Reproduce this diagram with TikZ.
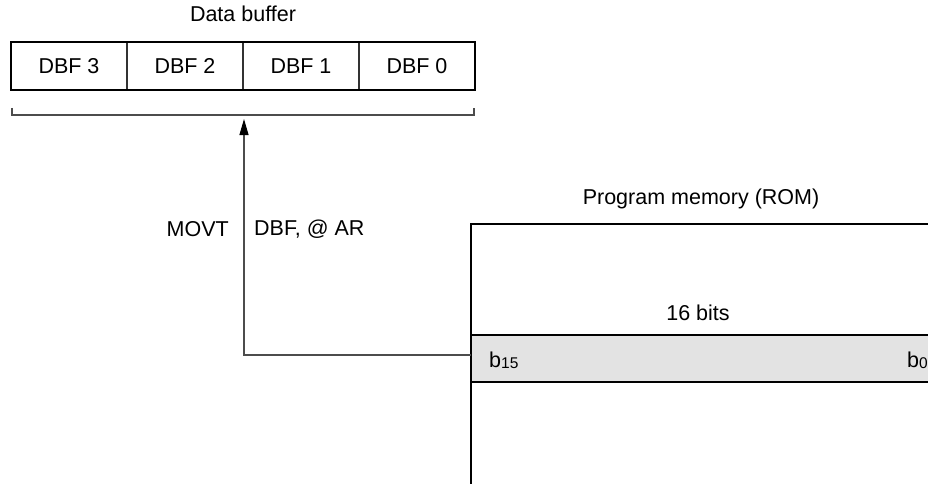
\documentclass[tikz,border=0pt]{standalone}
\usepackage{fontspec}
\setmainfont{Liberation Sans}
\usetikzlibrary{arrows.meta}
\begin{document}
\begin{tikzpicture}[x=1pt,y=-1pt,
  lbl/.style={inner sep=0pt,font=\fontsize{21.5}{25}\selectfont},
  thickb/.style={line width=2.4pt},
  thinl/.style={line width=1.1pt,draw=black!70}]
\useasboundingbox (0,0) rectangle (928,484);
% Data buffer
\node[lbl] (dbtitle) at (243,14) {Data buffer};
\draw[thinl,draw=black!80] (127,42) -- (127,90) (243,42) -- (243,90) (359,42) -- (359,90);
\draw[thickb] (11,42) rectangle (475,90);
\node[lbl] (d3) at (69,66) {DBF 3};
\node[lbl] (d2) at (185,66) {DBF 2};
\node[lbl] (d1) at (301,66) {DBF 1};
\node[lbl] (d0) at (417,66) {DBF 0};
% bracket
\coordinate (bl) at (12,108);
\coordinate (br) at (474,108);
\draw[thinl] (bl) -- (12,115) -- (474,115) -- (br);
% ROM
\fill[black!11] (471,335) rectangle (930,382);
\draw[thickb] (471,490) -- (471,224) -- (932,224);
\draw[thickb] (471,335) -- (932,335) (471,382) -- (932,382);
\node[lbl] (romt) at (701,199) {Program memory (ROM)};
\node[lbl] (bits) at (698,313) {16 bits};
\node[lbl,anchor=west] (b15) at (489,360) {b\raisebox{-0.1ex}{\fontsize{15.5}{17}\selectfont 15}};
\node[lbl,anchor=east] (b0) at (928,360) {b\raisebox{-0.1ex}{\fontsize{15.5}{17}\selectfont 0}};
% arrow
\coordinate (rl) at (471,355);
\coordinate (tip) at (244,119);
\coordinate (corner) at (244,355);
\draw[thinl,-{Triangle[length=16pt,width=9pt,fill=black,color=black]}] (rl) -- (corner) -- (tip);
\node[lbl,anchor=east] (movt) at (229,229) {MOVT};
\node[lbl,anchor=west] (arg) at (254,229) {DBF, @ AR};
\end{tikzpicture}
\end{document}
